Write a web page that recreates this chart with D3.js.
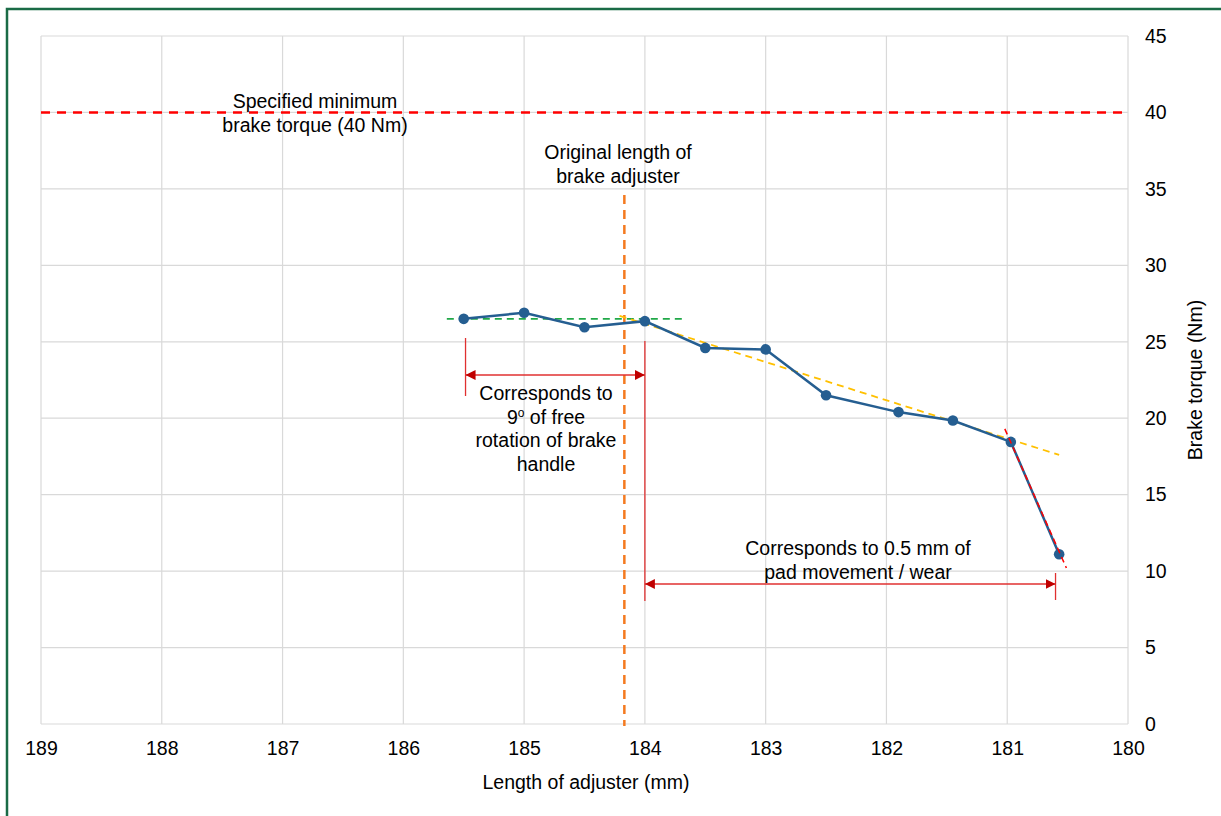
<!DOCTYPE html>
<html><head><meta charset="utf-8">
<script src="https://cdn.jsdelivr.net/npm/d3@7"></script>
<style>body{margin:0;background:#fff}svg{display:block}text{font-family:"Liberation Sans",Arial,sans-serif;fill:#000}</style>
</head><body><svg id="c" width="1221" height="816"></svg>
<script>
// Data
const lengths = [185.5, 185.0, 184.5, 184.0, 183.5, 183.0, 182.5, 181.9, 181.45, 180.97, 180.57];
const torques = [26.5, 26.9, 25.95, 26.35, 24.6, 24.5, 21.5, 20.4, 19.85, 18.45, 11.1];
const xTicks = [189, 188, 187, 186, 185, 184, 183, 182, 181, 180];
const yTicks = [0, 5, 10, 15, 20, 25, 30, 35, 40, 45];
const specMin = 40;
const originalLength = 184.17;
const flatTrend = [[185.64, 26.5], [183.67, 26.5]];
const slopeTrend = [[184.21, 26.7], [180.57, 17.6]];
const wearTrend = [[181.02, 19.3], [180.51, 10.2]];
const freeRotationRange = [185.485, 184.0];
const padWearRange = [184.0, 180.6];

const FS = 19.5;
const svg = d3.select("#c");
const L = 41, R = 1128, T = 36, B = 724;
const x = d3.scaleLinear().domain([189, 180]).range([L, R]);
const y = d3.scaleLinear().domain([0, 45]).range([B, T]);

// frame
svg.append("rect").attr("x", 7).attr("y", 9).attr("width", 1230).attr("height", 830)
  .attr("fill", "none").attr("stroke", "#1a6b46").attr("stroke-width", 2.5);

// gridlines
const g = svg.append("g");
g.selectAll(".vg").data(xTicks).join("line")
  .attr("x1", d => x(d)).attr("x2", d => x(d)).attr("y1", T).attr("y2", B)
  .attr("stroke", "#d9d9d9").attr("stroke-width", 1.2);
g.selectAll(".hg").data(yTicks).join("line")
  .attr("x1", L).attr("x2", R).attr("y1", d => y(d)).attr("y2", d => y(d))
  .attr("stroke", "#d9d9d9").attr("stroke-width", 1.2);

// axes
const xAxis = d3.axisBottom(x).tickValues(xTicks).tickSize(0).tickPadding(17).tickFormat(d3.format("d"));
const xa = svg.append("g").attr("transform", `translate(0,${B})`).call(xAxis);
xa.select(".domain").remove();
xa.selectAll("text").attr("font-size", FS).attr("fill", "#000").attr("font-family", "Liberation Sans, Arial, sans-serif");

const yAxis = d3.axisRight(y).tickValues(yTicks).tickSize(0).tickPadding(17);
const ya = svg.append("g").attr("transform", `translate(${R},0)`).call(yAxis);
ya.select(".domain").remove();
ya.selectAll("text").attr("font-size", FS).attr("fill", "#000").attr("font-family", "Liberation Sans, Arial, sans-serif");

svg.append("text").attr("x", 586).attr("y", 789).attr("text-anchor", "middle").attr("font-size", FS).text("Length of adjuster (mm)");
svg.append("text").attr("transform", "translate(1202,380) rotate(-90)").attr("text-anchor", "middle").attr("font-size", FS).text("Brake torque (Nm)");

// spec line
svg.append("line").attr("x1", L).attr("x2", R).attr("y1", y(specMin)).attr("y2", y(specMin))
  .attr("stroke", "#ff0000").attr("stroke-width", 2.5).attr("stroke-dasharray", "9,7");

// original length line
svg.append("line").attr("x1", x(originalLength)).attr("x2", x(originalLength)).attr("y1", y(34.6)).attr("y2", B + 2)
  .attr("stroke", "#f47a20").attr("stroke-width", 2.5).attr("stroke-dasharray", "9,6");

const line = d3.line().x(d => x(d[0])).y(d => y(d[1]));

// annotations (arrows)
const defs = svg.append("defs");
defs.append("marker").attr("id", "ah").attr("viewBox", "0 0 10 10").attr("refX", 10).attr("refY", 5)
  .attr("markerWidth", 10).attr("markerHeight", 10).attr("markerUnits", "userSpaceOnUse").attr("orient", "auto-start-reverse")
  .append("path").attr("d", "M0,0L10,5L0,10Z").attr("fill", "#c00000");
const red = "#e03030";
function vline(xv, y1, y2) {
  svg.append("line").attr("x1", x(xv)).attr("x2", x(xv)).attr("y1", y1).attr("y2", y2).attr("stroke", red).attr("stroke-width", 1.3);
}
vline(freeRotationRange[0], 338, 396);
vline(padWearRange[0], 341, 601);
vline(padWearRange[1], 573, 600);
svg.append("line").attr("x1", x(freeRotationRange[0])).attr("x2", x(freeRotationRange[1])).attr("y1", 375).attr("y2", 375)
  .attr("stroke", red).attr("stroke-width", 1.3).attr("marker-start", "url(#ah)").attr("marker-end", "url(#ah)");
svg.append("line").attr("x1", x(padWearRange[0])).attr("x2", x(padWearRange[1])).attr("y1", 584).attr("y2", 584)
  .attr("stroke", red).attr("stroke-width", 1.3).attr("marker-start", "url(#ah)").attr("marker-end", "url(#ah)");

// trend lines (behind)
svg.append("path").attr("d", line(flatTrend)).attr("fill", "none").attr("stroke", "#20a848").attr("stroke-width", 1.8).attr("stroke-dasharray", "7,5");
svg.append("path").attr("d", line(slopeTrend)).attr("fill", "none").attr("stroke", "#ffc000").attr("stroke-width", 1.8).attr("stroke-dasharray", "7,5");

// series
const pts = lengths.map((d, i) => [d, torques[i]]);
svg.append("path").attr("d", line(pts)).attr("fill", "none").attr("stroke", "#255e91").attr("stroke-width", 2.5);
svg.selectAll(".pt").data(pts).join("circle").attr("cx", d => x(d[0])).attr("cy", d => y(d[1])).attr("r", 5.3).attr("fill", "#255e91");

svg.append("path").attr("d", line(wearTrend)).attr("fill", "none").attr("stroke", "#ff0000").attr("stroke-width", 1.5).attr("stroke-dasharray", "6,4");

// texts
function block(cx, y0, lines) {
  const t = svg.append("text").attr("text-anchor", "middle").attr("font-size", FS);
  lines.forEach((l, i) => {
    const ts = t.append("tspan").attr("x", cx).attr("y", y0 + i * 23.5);
    if (Array.isArray(l)) {
      ts.text(l[0]);
      ts.append("tspan").attr("font-size", 12).attr("dy", -7).text(l[1]);
      ts.append("tspan").attr("dy", 7).text(l[2]);
    } else ts.text(l);
  });
}
block(315, 108, ["Specified minimum", "brake torque (40 Nm)"]);
block(618, 159, ["Original length of", "brake adjuster"]);
block(546, 400, ["Corresponds to", ["9", "o", " of free"], "rotation of brake", "handle"]);
block(858, 555, ["Corresponds to 0.5 mm of", "pad movement / wear"]);
</script></body></html>
